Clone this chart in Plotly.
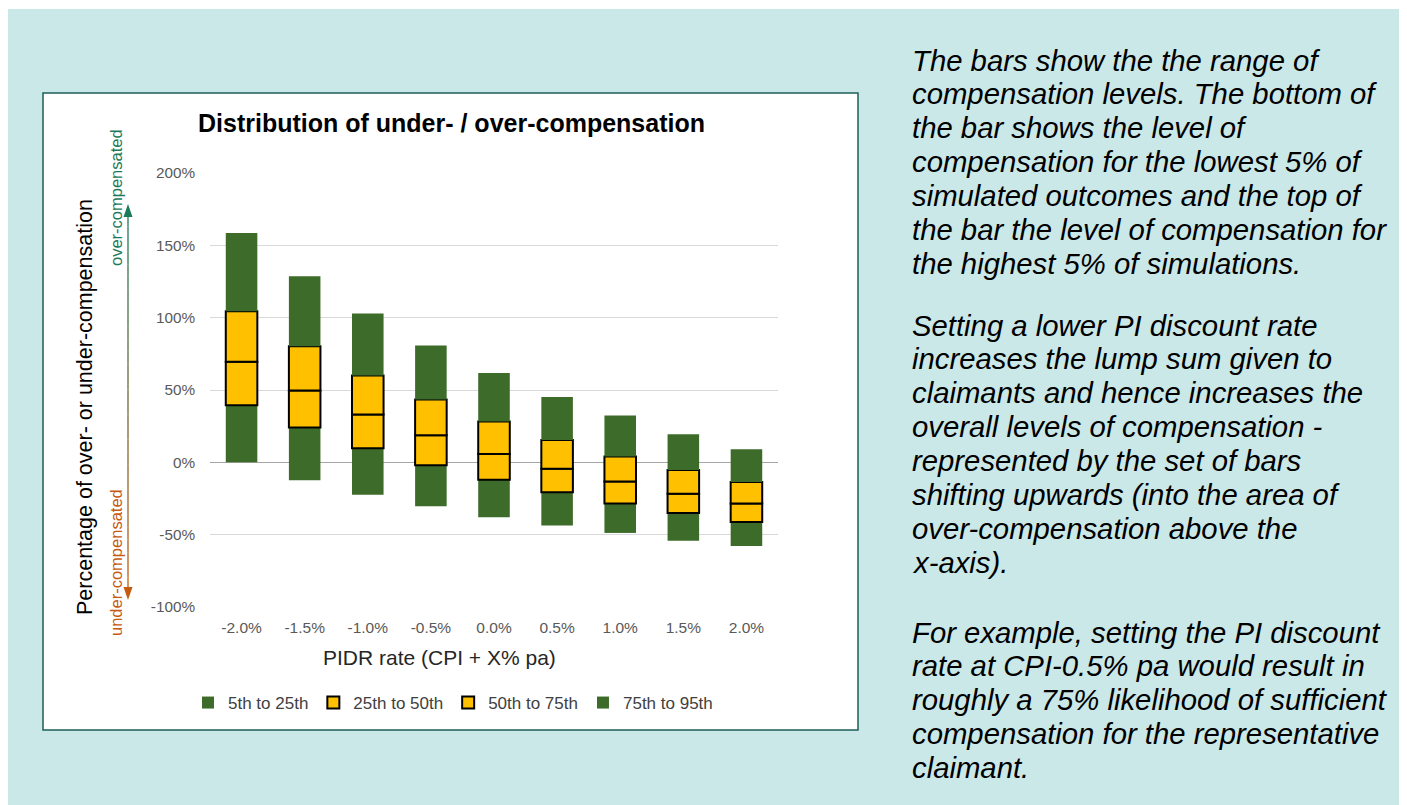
import plotly.graph_objects as go

# ---- data (percentiles of over/under-compensation, %) ----
categories = ["-2.0%", "-1.5%", "-1.0%", "-0.5%", "0.0%", "0.5%", "1.0%", "1.5%", "2.0%"]
p5 = [0, -12.4, -22.4, -30.4, -38, -43.6, -48.8, -54.2, -57.8]
p25 = [39.5, 24, 9.7, -2, -12, -20.7, -28.4, -35, -41.2]
p50 = [69.5, 49.6, 33, 18.7, 5.8, -4.4, -13.2, -21.7, -28.4]
p75 = [104.5, 80.2, 60, 43.4, 28.2, 15.4, 4.1, -5.3, -13.6]
p95 = [158.5, 128.6, 102.8, 80.7, 61.8, 45.2, 32.3, 19.4, 9]
series_names = ["5th to 25th", "25th to 50th", "50th to 75th", "75th to 95th"]
y_ticks = [-100, -50, 0, 50, 100, 150, 200]
y_tick_labels = ["-100%", "-50%", "0%", "50%", "100%", "150%", "200%"]

GREEN = "#3D6B2A"
YELLOW = "#FFC000"
FONT = "Liberation Sans, Arial, sans-serif"

W, H = 1407, 805
OFF = 8  # page body margin offset
PL, PR, PT, PB = 210 - OFF, 778 - OFF, 173 - OFF, 607 - OFF  # plot area in pixels


def px(x):
    return (x - OFF - PL) / (PR - PL)


def py(y):
    return (PB - (y - OFF)) / (PB - PT)


fig = go.Figure()
lows = [p5, p25, p50, p75]
highs = [p25, p50, p75, p95]
for i, name in enumerate(series_names):
    yellow = i in (1, 2)
    fig.add_trace(go.Bar(
        x=categories,
        base=lows[i],
        y=[h - l for h, l in zip(highs[i], lows[i])],
        name=name,
        width=0.5,
        marker=dict(color=YELLOW if yellow else GREEN,
                    line=dict(color="#000000" if yellow else GREEN, width=2 if yellow else 0)),
        hoverinfo="skip",
    ))

shapes = []
# teal page background
shapes.append(dict(type="rect", xref="paper", yref="paper", x0=px(3), x1=px(W + 20), y0=py(9), y1=py(H + 20),
                   fillcolor="#CBE8E8", line=dict(width=0), layer="below"))
# chart box
shapes.append(dict(type="rect", xref="paper", yref="paper", x0=px(43), x1=px(858), y0=py(93), y1=py(730),
                   fillcolor="#FFFFFF", line=dict(color="#1E5E58", width=1.5), layer="below"))

# gradient arrow line
top_c = (0x1B, 0x7A, 0x5A)
bot_c = (0xC5, 0x5A, 0x11)
y_top, y_bot = 214, 590
n = 30
for k in range(n):
    t = (k + 0.5) / n
    c = tuple(int(round(a + (b - a) * t)) for a, b in zip(top_c, bot_c))
    ya = y_top + (y_bot - y_top) * k / n
    yb = y_top + (y_bot - y_top) * (k + 1) / n
    shapes.append(dict(type="line", xref="paper", yref="paper", x0=px(128), x1=px(128),
                       y0=py(ya), y1=py(yb), line=dict(color="rgb(%d,%d,%d)" % c, width=1.3)))
# arrowheads
shapes.append(dict(type="path", xref="paper", yref="paper",
                   path="M %f %f L %f %f L %f %f Z" % (px(128), py(204), px(123.5), py(217), px(132.5), py(217)),
                   fillcolor="#1B7A5A", line=dict(width=0)))
shapes.append(dict(type="path", xref="paper", yref="paper",
                   path="M %f %f L %f %f L %f %f Z" % (px(128), py(600), px(123.5), py(587), px(132.5), py(587)),
                   fillcolor="#C55A11", line=dict(width=0)))

annotations = []
annotations.append(dict(text="<b>Distribution of under- / over-compensation</b>", xref="paper", yref="paper",
                        x=px(451), y=py(123), xanchor="center", yanchor="middle", showarrow=False,
                        font=dict(size=25, color="#000000", family=FONT)))
annotations.append(dict(text="PIDR rate (CPI + X% pa)", xref="paper", yref="paper",
                        x=px(439), y=py(657), xanchor="center", yanchor="middle", showarrow=False,
                        font=dict(size=21, color="#262626", family=FONT)))
annotations.append(dict(text="Percentage of over- or under-compensation", xref="paper", yref="paper",
                        x=px(85), y=py(407), xanchor="center", yanchor="middle", showarrow=False, textangle=-90,
                        font=dict(size=21.5, color="#000000", family=FONT)))
annotations.append(dict(text="over-compensated", xref="paper", yref="paper",
                        x=px(116), y=py(198), xanchor="center", yanchor="middle", showarrow=False, textangle=-90,
                        font=dict(size=16.5, color="#1B7A5A", family=FONT)))
annotations.append(dict(text="under-compensated", xref="paper", yref="paper",
                        x=px(116), y=py(563), xanchor="center", yanchor="middle", showarrow=False, textangle=-90,
                        font=dict(size=16.5, color="#C55A11", family=FONT)))

paragraphs = [
    (60, ["The bars show the the range of", "compensation levels. The bottom of", "the bar shows the level of",
          "compensation for the lowest 5% of", "simulated outcomes and the top of",
          "the bar the level of compensation for", "the highest 5% of simulations."]),
    (325, ["Setting a lower PI discount rate", "increases the lump sum given to", "claimants and hence increases the",
           "overall levels of compensation -", "represented by the set of bars", "shifting upwards (into the area of",
           "over-compensation above the", "x-axis)."]),
    (632, ["For example, setting the PI discount", "rate at CPI-0.5% pa would result in",
           "roughly a 75% likelihood of sufficient", "compensation for the representative", "claimant."]),
]
STEP = 33.9
for ymid, lines in paragraphs:
    for j, line in enumerate(lines):
        annotations.append(dict(text="<i>" + line + "</i>", xref="paper", yref="paper",
                                x=px(910), y=py(ymid + j * STEP), xanchor="left", yanchor="middle", align="left",
                                showarrow=False, font=dict(size=29.3, color="#000000", family=FONT)))

fig.update_layout(
    width=W, height=H,
    margin=dict(l=PL, r=W - PR, t=PT, b=H - PB, pad=0),
    paper_bgcolor="#FFFFFF",
    plot_bgcolor="rgba(0,0,0,0)",
    barmode="overlay",
    bargap=0.5,
    showlegend=True,
    legend=dict(orientation="h", x=px(453), y=py(703), xanchor="center", yanchor="middle",
                font=dict(size=17, color="#404040", family=FONT), bgcolor="rgba(0,0,0,0)",
                traceorder="normal", itemwidth=30),
    xaxis=dict(type="category", categoryorder="array", categoryarray=categories,
               showgrid=False, showline=False, ticks="", ticklabelstandoff=9,
               tickfont=dict(size=15.5, color="#595959", family=FONT)),
    yaxis=dict(range=[-100, 200], tickvals=y_ticks, ticktext=y_tick_labels, showgrid=True, gridcolor="#D9D9D9",
               gridwidth=1, zeroline=True, zerolinecolor="#A6A6A6", zerolinewidth=1, showline=False,
               ticks="", ticklabelstandoff=14,
               tickfont=dict(size=15.3, color="#595959", family=FONT)),
    shapes=shapes,
    annotations=annotations,
)

fig.write_html("out.html")
